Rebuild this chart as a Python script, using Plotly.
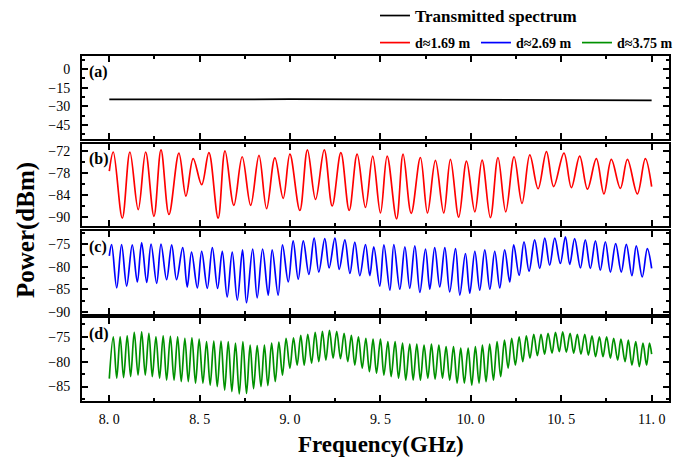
import plotly.graph_objects as go

# ---------------- data ----------------
a_freq = [8.0, 8.25, 8.5, 8.75, 9.0, 9.25, 9.5, 9.75, 10.0, 10.25, 10.5, 10.75, 11.0]
a_power = [-24.3, -24.5, -24.2, -24.4, -24.1, -24.3, -24.5, -24.4, -24.6, -24.8, -24.7, -25.1, -25.2]

b_freq = [8.000, 8.022, 8.072, 8.114, 8.160, 8.201, 8.247, 8.286, 8.330, 8.385, 8.424, 8.464,
          8.511, 8.551, 8.602, 8.640, 8.689, 8.735, 8.782, 8.828, 8.870, 8.916, 8.962, 8.999,
          9.054, 9.096, 9.141, 9.189, 9.233, 9.281, 9.327, 9.371, 9.417, 9.457, 9.500, 9.537,
          9.589, 9.625, 9.670, 9.721, 9.760, 9.804, 9.850, 9.887, 9.933, 9.976, 10.022, 10.062,
          10.108, 10.150, 10.193, 10.239, 10.283, 10.326, 10.372, 10.418, 10.458, 10.515, 10.556,
          10.602, 10.645, 10.694, 10.736, 10.777, 10.827, 10.866, 10.921, 10.965, 11.000]
b_power = [-77.5, -72.3, -90.3, -72.3, -88.0, -72.3, -89.8, -71.7, -89.3, -72.6, -84.3, -74.1,
           -81.2, -72.5, -90.3, -72.0, -86.8, -73.6, -86.8, -73.2, -87.7, -73.9, -84.9, -72.9,
           -88.2, -71.7, -85.2, -71.7, -87.0, -72.5, -88.2, -72.9, -87.4, -73.4, -88.9, -73.4,
           -90.5, -72.9, -89.0, -73.8, -88.9, -74.6, -88.9, -74.3, -90.0, -74.8, -88.6, -74.5,
           -90.2, -73.8, -88.6, -73.6, -86.3, -73.1, -82.3, -72.2, -81.7, -72.6, -82.0,
           -73.4, -82.4, -74.1, -83.7, -74.3, -82.2, -74.3, -83.7, -74.1, -81.7]

c_freq = [8.000, 8.013, 8.041, 8.068, 8.096, 8.127, 8.155, 8.179, 8.207, 8.231, 8.262, 8.286,
          8.317, 8.345, 8.372, 8.406, 8.431, 8.455, 8.487, 8.511, 8.542, 8.570, 8.599, 8.625,
          8.652, 8.680, 8.708, 8.737, 8.759, 8.793, 8.818, 8.848, 8.879, 8.901, 8.934, 8.958,
          8.990, 9.017, 9.045, 9.073, 9.104, 9.133, 9.159, 9.192, 9.216, 9.248, 9.272, 9.303,
          9.331, 9.358, 9.386, 9.417, 9.441, 9.463, 9.496, 9.519, 9.552, 9.574, 9.607, 9.635,
          9.662, 9.690, 9.718, 9.749, 9.773, 9.800, 9.828, 9.856, 9.883, 9.915, 9.939, 9.970,
          9.994, 10.022, 10.049, 10.077, 10.105, 10.132, 10.160, 10.187, 10.215, 10.237, 10.267,
          10.294, 10.322, 10.353, 10.381, 10.409, 10.436, 10.464, 10.495, 10.523, 10.547, 10.574,
          10.606, 10.633, 10.661, 10.689, 10.716, 10.744, 10.772, 10.801, 10.832, 10.860, 10.891,
          10.915, 10.948, 10.976, 11.000]
c_power = [-77.6, -75.1, -84.7, -75.1, -84.3, -75.2, -83.4, -74.7, -83.5, -75.0, -83.7, -75.0,
           -82.9, -75.2, -82.9, -75.8, -84.5, -76.8, -84.7, -76.6, -84.8, -75.8, -84.8, -76.6,
           -86.7, -76.8, -87.4, -76.3, -88.0, -76.1, -86.9, -76.1, -86.3, -76.3, -86.3, -75.2,
           -83.4, -74.3, -82.8, -74.3, -81.7, -73.7, -81.2, -73.8, -80.3, -73.7, -80.6, -74.1,
           -81.5, -74.6, -82.0, -75.1, -82.0, -75.6, -84.3, -75.2, -85.2, -75.1, -85.0, -75.6,
           -84.8, -75.4, -85.7, -76.1, -85.0, -75.8, -84.5, -75.8, -85.6, -76.0, -86.3, -77.1,
           -85.9, -76.6, -85.2, -76.3, -85.0, -76.6, -84.7, -76.3, -83.4, -75.2, -81.9,
           -74.5, -81.0, -74.1, -80.4, -73.7, -79.7, -73.7, -79.3, -73.4, -79.5, -73.8,
           -80.3, -74.1, -80.4, -74.3, -80.8, -74.5, -81.2, -74.9, -81.2, -75.1, -82.0,
           -75.4, -82.3, -76.0, -80.4]

d_freq = [8.000, 8.022, 8.041, 8.060, 8.079, 8.099, 8.118, 8.138, 8.159, 8.179, 8.199, 8.219,
          8.238, 8.258, 8.278, 8.298, 8.317, 8.338, 8.358, 8.378, 8.398, 8.418, 8.437, 8.457,
          8.477, 8.497, 8.518, 8.538, 8.558, 8.578, 8.597, 8.618, 8.638, 8.658, 8.678, 8.698,
          8.719, 8.739, 8.759, 8.779, 8.798, 8.818, 8.839, 8.858, 8.877, 8.898, 8.918, 8.938,
          8.958, 8.978, 8.999, 9.019, 9.039, 9.059, 9.078, 9.098, 9.119, 9.139, 9.159, 9.179,
          9.198, 9.218, 9.238, 9.258, 9.279, 9.299, 9.319, 9.339, 9.358, 9.378, 9.399, 9.419,
          9.439, 9.459, 9.478, 9.500, 9.519, 9.541, 9.559, 9.581, 9.600, 9.622, 9.640, 9.662,
          9.681, 9.701, 9.721, 9.741, 9.762, 9.782, 9.802, 9.823, 9.843, 9.863, 9.883, 9.904,
          9.924, 9.944, 9.964, 9.985, 10.005, 10.025, 10.045, 10.064, 10.084, 10.104, 10.125,
          10.145, 10.165, 10.186, 10.206, 10.226, 10.246, 10.267, 10.287, 10.307, 10.327, 10.348,
          10.368, 10.388, 10.408, 10.427, 10.449, 10.468, 10.489, 10.508, 10.528, 10.549, 10.569,
          10.589, 10.609, 10.630, 10.650, 10.670, 10.690, 10.711, 10.731, 10.751, 10.772, 10.790,
          10.812, 10.830, 10.853, 10.871, 10.891, 10.912, 10.932, 10.952, 10.972, 10.988, 11.000]
d_power = [-83.4, -75.0, -83.3, -75.0, -83.2, -74.8, -83.0, -74.1, -82.7, -74.0, -82.7, -74.3,
           -83.0, -75.0, -83.3, -74.8, -83.7, -74.9, -83.7, -75.0, -84.0, -75.3, -84.0, -75.2,
           -84.3, -75.5, -84.3, -76.0, -84.7, -75.9, -85.0, -75.9, -85.7, -76.0, -86.0, -76.3,
           -86.5, -76.0, -86.4, -76.7, -85.4, -76.8, -85.0, -76.7, -84.8, -76.3, -84.0, -76.1,
           -82.7, -75.3, -81.3, -75.2, -80.7, -74.7, -80.7, -74.5, -80.3, -74.1, -80.0, -73.9,
           -79.7, -73.7, -79.3, -73.9, -79.4, -74.3, -80.0, -74.7, -80.7, -75.0, -81.3, -75.3,
           -82.0, -75.5, -82.3, -75.5, -82.7, -76.0, -83.0, -76.0, -83.3, -76.3, -83.7, -76.5,
           -83.7, -76.5, -83.7, -76.7, -83.3, -76.5, -83.5, -76.7, -83.3, -77.0, -83.7, -77.0,
           -84.3, -77.3, -84.3, -77.3, -84.7, -77.0, -84.3, -76.7, -84.0, -76.5, -83.7,
           -76.0, -83.0, -75.7, -81.3, -75.3, -80.7, -75.0, -80.0, -74.8, -79.3, -74.5,
           -78.8, -74.5, -78.5, -74.3, -78.3, -74.1, -78.0, -74.0, -78.1, -74.3, -78.3,
           -74.5, -78.5, -74.5, -78.7, -74.8, -79.0, -75.0, -79.0, -75.0, -79.3, -75.3,
           -79.7, -75.5, -80.0, -75.7, -80.7, -76.0, -81.0, -76.3, -80.7, -76.3, -78.5]

x_tickvals = [8.0, 8.5, 9.0, 9.5, 10.0, 10.5, 11.0]
x_ticktext = ["8. 0", "8. 5", "9. 0", "9. 5", "10. 0", "10. 5", "11. 0"]
a_yticks = [0, -15, -30, -45]
b_yticks = [-72, -78, -84, -90]
c_yticks = [-75, -80, -85, -90]
d_yticks = [-75, -80, -85]

series_names = ["Transmitted spectrum", "d\u22481.69 m", "d\u22482.69 m", "d\u22483.75 m"]
panel_labels = ["(a)", "(b)", "(c)", "(d)"]

# ---------------- figure ----------------
FONT = "Liberation Serif"
LW = 1.7
fig = go.Figure()

fig.add_trace(go.Scatter(x=a_freq, y=a_power, mode="lines", name=series_names[0],
                         line=dict(color="black", width=LW), xaxis="x", yaxis="y",
                         legend="legend", showlegend=True))
fig.add_trace(go.Scatter(x=b_freq, y=b_power, mode="lines", name=series_names[1],
                         line=dict(color="#ff0000", width=LW, shape="spline"),
                         xaxis="x2", yaxis="y2", legend="legend2", showlegend=True))
fig.add_trace(go.Scatter(x=c_freq, y=c_power, mode="lines", name=series_names[2],
                         line=dict(color="#0000ff", width=LW, shape="spline"),
                         xaxis="x3", yaxis="y3", legend="legend2", showlegend=True))
fig.add_trace(go.Scatter(x=d_freq, y=d_power, mode="lines", name=series_names[3],
                         line=dict(color="#009100", width=LW, shape="spline"),
                         xaxis="x4", yaxis="y4", legend="legend2", showlegend=True))

xr = [7.849, 11.096]
domains = [[0.7599, 1.0], [0.5066, 0.7463], [0.2533, 0.4930], [0.0, 0.2397]]
yranges = [[-56.0, 10.4], [-92.5, -70.0], [-90.4, -72.1], [-87.9, -71.3]]
yticks = [a_yticks, b_yticks, c_yticks, d_yticks]
yminor = [7.5, 3, 2.5, 2.5]

common = dict(showline=True, linecolor="black", linewidth=2, mirror="allticks",
              ticks="inside", ticklen=6, tickwidth=2, tickcolor="black",
              showgrid=False, zeroline=False,
              tickfont=dict(family=FONT, size=14, color="black"))

layout = dict(width=676, height=463, showlegend=True,
              margin=dict(l=82, r=7, t=56, b=62, autoexpand=False),
              paper_bgcolor="white", plot_bgcolor="white",
              font=dict(family=FONT, color="black"))

for i in range(4):
    sx = "" if i == 0 else str(i + 1)
    layout["xaxis" + sx] = dict(common, range=xr, anchor="y" + sx,
                                tickvals=x_tickvals, ticktext=x_ticktext,
                                showticklabels=(i == 3), ticklabelstandoff=4,
                                minor=dict(ticks="inside", ticklen=3, tickwidth=2,
                                           tickcolor="black", dtick=0.25, tick0=8.0))
    layout["yaxis" + sx] = dict(common, range=yranges[i], domain=domains[i], anchor="x" + sx,
                                tickvals=yticks[i], ticklabelstandoff=7,
                                minor=dict(ticks="inside", ticklen=3, tickwidth=2,
                                           tickcolor="black", dtick=yminor[i],
                                           tick0=yticks[i][0]))

layout["legend"] = dict(x=0.4991, xanchor="left", y=1.116, yanchor="middle", visible=True,
                        bgcolor="rgba(0,0,0,0)", itemwidth=30,
                        font=dict(family=FONT, size=17, color="black", weight="bold"))
layout["legend2"] = dict(orientation="h", x=0.4991, xanchor="left", y=1.0377, yanchor="middle",
                         visible=True, bgcolor="rgba(0,0,0,0)", itemwidth=30, entrywidth=56,
                         entrywidthmode="pixels",
                         font=dict(family=FONT, size=14, color="black", weight="bold"))

annotations = []
for i in range(4):
    sx = "" if i == 0 else str(i + 1)
    annotations.append(dict(text=panel_labels[i], xref="x" + sx + " domain",
                            yref="y" + sx + " domain", x=0.008, y=0.94,
                            xanchor="left", yanchor="top", showarrow=False,
                            font=dict(family=FONT, size=16, color="black", weight="bold")))
annotations.append(dict(text="Power(dBm)", xref="paper", yref="paper", x=-0.0954, y=0.4957,
                        textangle=-90, showarrow=False, xanchor="center", yanchor="middle",
                        font=dict(family=FONT, size=25, color="black", weight="bold")))
annotations.append(dict(text="Frequency(GHz)", xref="paper", yref="paper", x=0.509, y=-0.1275,
                        showarrow=False, xanchor="center", yanchor="middle",
                        font=dict(family=FONT, size=23, color="black", weight="bold")))
layout["annotations"] = annotations

fig.update_layout(layout)
fig.write_html("out.html",
               config={"displayModeBar": False},
               post_script="document.body.style.margin='0px';"
                           "document.body.style.overflow='hidden';")
